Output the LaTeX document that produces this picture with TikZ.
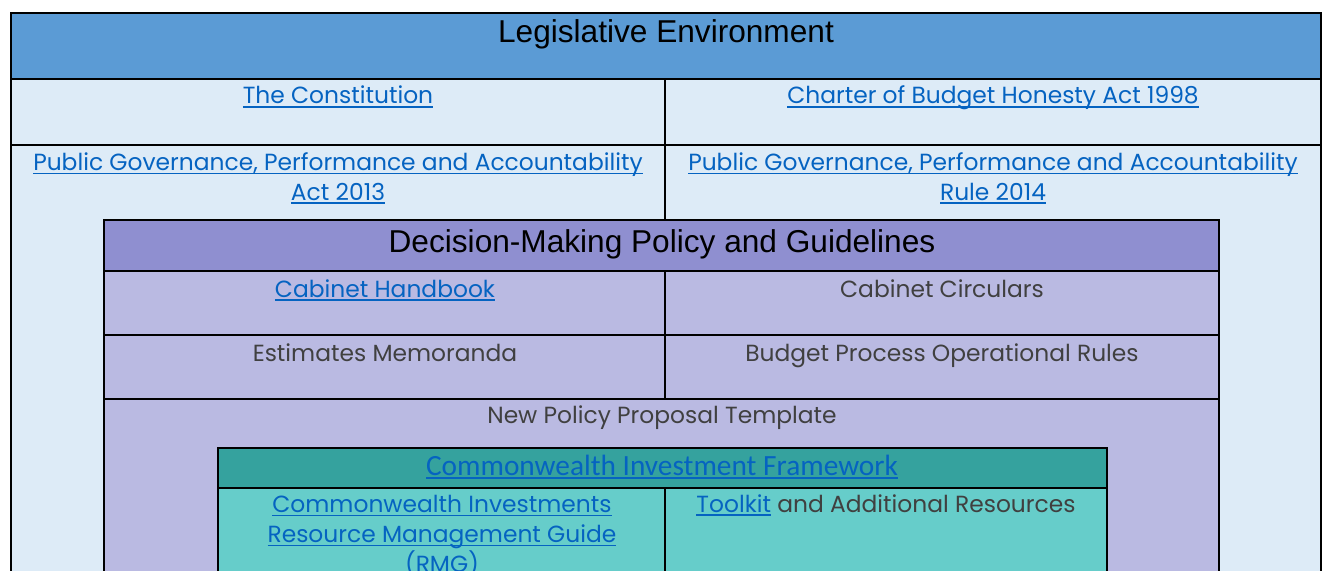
\documentclass[tikz,border=0pt]{standalone}
\usepackage{fontspec}
\setmainfont{Poppins}
\newfontfamily\headfont{Liberation Sans}
\newfontfamily\guidefont{Carlito}
\usepackage{xcolor}
\usetikzlibrary{positioning}

\definecolor{legblue}{HTML}{5B9BD5}
\definecolor{legpale}{HTML}{DDEBF7}
\definecolor{decpurple}{HTML}{8F8FD0}
\definecolor{decpale}{HTML}{BABAE2}
\definecolor{cifteal}{HTML}{35A29E}
\definecolor{cifpale}{HTML}{66CDCA}
\definecolor{linkblue}{HTML}{0563C1}
\definecolor{bodygray}{HTML}{404040}
% hyperlink look: blue text, rule at a fixed depth
\newsavebox\lnkbox
\newcommand{\lnk}[1]{{\color{linkblue}\sbox\lnkbox{#1}\rlap{\rule[-2.2pt]{\wd\lnkbox}{0.8pt}}\usebox\lnkbox}}

\begin{document}
\begin{tikzpicture}[x=0.02cm,y=-0.02cm,
  frame/.style={draw=black, line width=1.1pt},
  title/.style={anchor=base, inner sep=0pt, font=\headfont\fontsize{18}{22}\selectfont},
  entry/.style={anchor=base, align=center, inner sep=0pt, text=bodygray, font=\fontsize{13.3}{17}\selectfont}]
\clip (0,0) rectangle (1325,571);

% outer box: legislation
\draw [frame, fill=legpale] (11,13) rectangle (1321,640);
\draw [frame, fill=legblue] (11,13) rectangle (1321,79);
\node [title] (LegTitle) at (666,43) {Legislative Environment};
\draw [frame] (11,145) -- (1321,145);
\draw [frame] (665,79) -- (665,220);
\node [entry] (Constitution) at (338,104) {\lnk{The Constitution}};
\node [entry] (Charter) at (993,104) {\lnk{Charter of Budget Honesty Act 1998}};
\node [entry] (PGPAAct) at (338,200) {\lnk{Public Governance, Performance and Accountability}\\\lnk{Act 2013}};
\node [entry] (PGPARule) at (993,200) {\lnk{Public Governance, Performance and Accountability}\\\lnk{Rule 2014}};

% middle box: decision-making
\draw [frame, fill=decpale] (104,220) rectangle (1219,640);
\draw [frame, fill=decpurple] (104,220) rectangle (1219,271);
\node [title] (DecTitle) at (662,252) {Decision-Making Policy and Guidelines};
\draw [frame] (104,335) -- (1219,335);
\draw [frame] (104,399) -- (1219,399);
\draw [frame] (665,271) -- (665,399);
\node [entry] (Handbook) at (385,297) {\lnk{Cabinet Handbook}};
\node [entry] (Circulars) at (942,297) {Cabinet Circulars};
\node [entry] (Estimates) at (385,361) {Estimates Memoranda};
\node [entry] (OpRules) at (942,361) {Budget Process Operational Rules};
\node [entry] (NPP) at (662,423) {New Policy Proposal Template};

% inner box: investment framework
\draw [frame, fill=cifpale] (218,448) rectangle (1107,640);
\draw [frame, fill=cifteal] (218,448) rectangle (1107,488);
\node [entry, font=\guidefont\fontsize{16.7}{20}\selectfont] (CIF) at (662,475) {\lnk{Commonwealth Investment Framework}};
\draw [frame] (665,488) -- (665,640);
\node [entry] (RMG) at (442,572) {\lnk{Commonwealth Investments}\\\lnk{Resource Management Guide}\\\lnk{(RMG)}};
\node [entry] (Toolkit) at (886,512) {\lnk{Toolkit} and Additional Resources};
\end{tikzpicture}
\end{document}
